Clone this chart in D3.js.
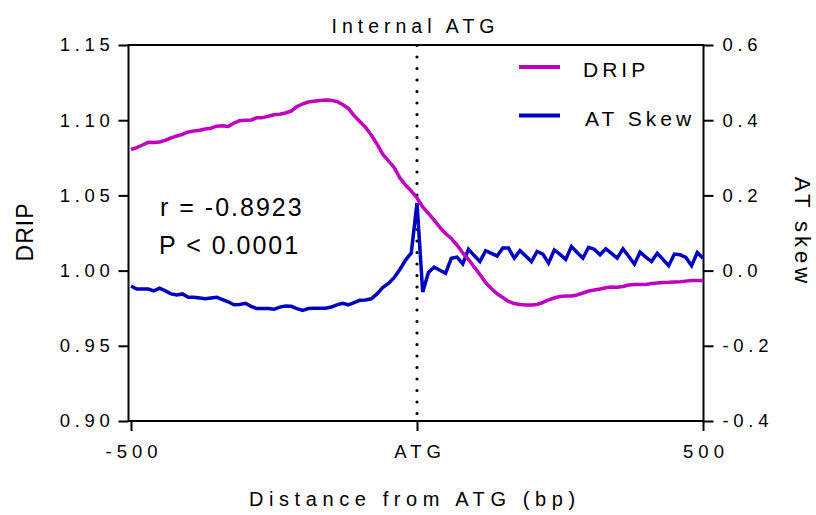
<!DOCTYPE html>
<html>
<head>
<meta charset="utf-8">
<script src="https://cdn.jsdelivr.net/npm/d3@7"></script>
<style>
  body { margin: 0; background: #fff; }
  svg text { font-family: "Liberation Sans", Arial, sans-serif; fill: #000; }
</style>
</head>
<body>
<script>
// Distance from the internal ATG (bp), one bin every 10 bp
var distance = [
  -500, -490, -480, -470, -460, -450, -440, -430, -420, -410,
  -400, -390, -380, -370, -360, -350, -340, -330, -320, -310,
  -300, -290, -280, -270, -260, -250, -240, -230, -220, -210,
  -200, -190, -180, -170, -160, -150, -140, -130, -120, -110,
  -100, -90, -80, -70, -60, -50, -40, -30, -20, -10,
  0, 10, 20, 30, 40, 50, 60, 70, 80, 90,
  100, 110, 120, 130, 140, 150, 160, 170, 180, 190,
  200, 210, 220, 230, 240, 250, 260, 270, 280, 290,
  300, 310, 320, 330, 340, 350, 360, 370, 380, 390,
  400, 410, 420, 430, 440, 450, 460, 470, 480, 490, 500
];

// DRIP signal (left axis)
var dripValues = [
  1.0805, 1.0818, 1.0835, 1.0853, 1.0851, 1.0855, 1.0866, 1.0883, 1.0895, 1.0906,
  1.0922, 1.0928, 1.0933, 1.0941, 1.0947, 1.0960, 1.0963, 1.0958, 1.0981, 1.0997,
  1.1000, 1.1001, 1.1017, 1.1017, 1.1026, 1.1036, 1.1040, 1.1048, 1.1061, 1.1090,
  1.1108, 1.1121, 1.1126, 1.1131, 1.1134, 1.1132, 1.1124, 1.1104, 1.1078, 1.1031,
  1.0991, 1.0953, 1.0902, 1.0842, 1.0775, 1.0729, 1.0686, 1.0617, 1.0569, 1.0529,
  1.0483, 1.0423, 1.0380, 1.0336, 1.0287, 1.0247, 1.0213, 1.0170, 1.0117, 1.0074,
  1.0024, 0.9974, 0.9921, 0.9881, 0.9846, 0.9821, 0.9795, 0.9781, 0.9775, 0.9771,
  0.9771, 0.9775, 0.9788, 0.9805, 0.9818, 0.9828, 0.9831, 0.9831, 0.9838, 0.9851,
  0.9864, 0.9871, 0.9878, 0.9886, 0.9891, 0.9889, 0.9894, 0.9904, 0.9908, 0.9908,
  0.9908, 0.9914, 0.9918, 0.9921, 0.9922, 0.9924, 0.9926, 0.9930, 0.9934, 0.9934, 0.9934
];

// AT skew (right axis)
var skewValues = [
  -0.041, -0.049, -0.049, -0.049, -0.054, -0.047, -0.054, -0.062, -0.065, -0.062,
  -0.071, -0.071, -0.073, -0.075, -0.073, -0.071, -0.077, -0.083, -0.091, -0.090,
  -0.087, -0.095, -0.101, -0.101, -0.101, -0.103, -0.097, -0.094, -0.095, -0.101,
  -0.106, -0.101, -0.100, -0.100, -0.100, -0.097, -0.091, -0.087, -0.091, -0.085,
  -0.079, -0.078, -0.075, -0.062, -0.045, -0.034, -0.019, 0.003, 0.028, 0.047,
  0.180, -0.057, -0.005, 0.009, 0.001, -0.007, 0.033, 0.036, 0.018, 0.057,
  0.040, 0.024, 0.053, 0.046, 0.039, 0.060, 0.060, 0.033, 0.053, 0.039,
  0.024, 0.051, 0.044, 0.020, 0.055, 0.043, 0.030, 0.064, 0.048, 0.033,
  0.062, 0.057, 0.042, 0.058, 0.046, 0.033, 0.058, 0.038, 0.017, 0.049,
  0.036, 0.024, 0.046, 0.030, 0.013, 0.044, 0.042, 0.035, 0.013, 0.048, 0.033
];

// Tick values and labels
var dripTicks = [0.90, 0.95, 1.00, 1.05, 1.10, 1.15];
var skewTicks = [-0.4, -0.2, 0.0, 0.2, 0.4, 0.6];
var distanceTicks = [-500, 0, 500];
var distanceTickLabels = ['-500', 'ATG', '500'];

var seriesNames = ['DRIP', 'AT Skew'];
var seriesColors = ['#c000c0', '#0000c0'];

var width = 816,
    height = 515;

// plot box edges (window.top is taken, so prefix them)
var boxLeft = 128.5, boxRight = 703.5, boxTop = 45, boxBottom = 421;

var x = d3.scaleLinear().domain([-500, 500]).range([131, 703]);
var yDrip = d3.scaleLinear().domain([0.90, 1.15]).range([boxBottom, boxTop]);
var ySkew = d3.scaleLinear().domain([-0.4, 0.6]).range([boxBottom, boxTop]);

// plain hyphen for negatives, like the original
var fmt = d3.formatLocale({ decimal: '.', thousands: ',', grouping: [3], currency: ['', ''], minus: '-' });

var svg = d3.select('body')
  .append('svg')
  .attr('width', width)
  .attr('height', height);

// the box around the plot
svg.append('rect')
  .attr('x', boxLeft)
  .attr('y', boxTop)
  .attr('width', boxRight - boxLeft)
  .attr('height', boxBottom - boxTop)
  .attr('fill', 'none')
  .attr('stroke', '#000')
  .attr('stroke-width', 2);

// spaced-out tick text, like the original export
function styleTicks(g, size, spacing) {
  g.select('.domain').remove();
  g.selectAll('.tick line').attr('stroke', '#000').attr('stroke-width', 2);
  g.selectAll('.tick text')
    .attr('fill', '#000')
    .style('font-family', '"Liberation Sans", Arial, sans-serif')
    .style('font-size', size + 'px')
    .style('letter-spacing', spacing + 'px');
}

svg.append('g')
  .attr('transform', 'translate(' + boxLeft + ',0)')
  .call(d3.axisLeft(yDrip).tickValues(dripTicks).tickFormat(fmt.format('.2f'))
    .tickSize(10).tickPadding(4))
  .call(styleTicks, 18.5, 4.7);

svg.append('g')
  .attr('transform', 'translate(' + boxRight + ',0)')
  .call(d3.axisRight(ySkew).tickValues(skewTicks).tickFormat(fmt.format('.1f'))
    .tickSize(10).tickPadding(9))
  .call(styleTicks, 18.5, 4.7);

svg.append('g')
  .attr('transform', 'translate(0,' + boxBottom + ')')
  .call(d3.axisBottom(x).tickValues(distanceTicks)
    .tickFormat(function(d, i) { return distanceTickLabels[i]; })
    .tickSize(10).tickPadding(14))
  .call(styleTicks, 18.5, 5)
  .selectAll('.tick text').attr('dx', 2.5);

// dotted marker at the ATG
svg.append('line')
  .attr('x1', x(0)).attr('x2', x(0))
  .attr('y1', boxTop + 0.5).attr('y2', boxBottom)
  .attr('stroke', '#000')
  .attr('stroke-width', 3.2)
  .attr('stroke-linecap', 'round')
  .attr('stroke-dasharray', '0,11.5');

// build rows for the two lines
var rows = distance.map(function(d, i) {
  return { bp: d, drip: dripValues[i], skew: skewValues[i] };
});

var dripLine = d3.line()
  .x(function(d) { return x(d.bp); })
  .y(function(d) { return yDrip(d.drip); });

var skewLine = d3.line()
  .x(function(d) { return x(d.bp); })
  .y(function(d) { return ySkew(d.skew); });

svg.append('path')
  .datum(rows)
  .attr('d', skewLine)
  .attr('fill', 'none')
  .attr('stroke', seriesColors[1])
  .attr('stroke-width', 3.5)
  .attr('stroke-linejoin', 'miter');

svg.append('path')
  .datum(rows)
  .attr('d', dripLine)
  .attr('fill', 'none')
  .attr('stroke', seriesColors[0])
  .attr('stroke-width', 3.5)
  .attr('stroke-linejoin', 'round');

// legend
var legend = svg.append('g');
seriesNames.forEach(function(name, i) {
  var ly = 67 + i * 48.5;
  legend.append('line')
    .attr('x1', 519).attr('x2', 560)
    .attr('y1', ly).attr('y2', ly)
    .attr('stroke', seriesColors[i])
    .attr('stroke-width', 4);
  legend.append('text')
    .attr('x', 583 + i * 2)
    .attr('y', ly + 10)
    .style('font-size', '21px')
    .style('letter-spacing', '4px')
    .text(name);
});

// correlation note
svg.append('text')
  .attr('x', 160).attr('y', 215.5)
  .style('font-size', '25px')
  .style('letter-spacing', '2px')
  .text('r = -0.8923');
svg.append('text')
  .attr('x', 159).attr('y', 254)
  .style('font-size', '25px')
  .style('letter-spacing', '2px')
  .text('P < 0.0001');

// titles
svg.append('text')
  .attr('x', 413 + 2.5).attr('y', 32.5)
  .attr('text-anchor', 'middle')
  .style('font-size', '19.5px')
  .style('letter-spacing', '5px')
  .text('Internal ATG');

svg.append('text')
  .attr('x', 412 + 2.8).attr('y', 506)
  .attr('text-anchor', 'middle')
  .style('font-size', '20px')
  .style('letter-spacing', '5.6px')
  .text('Distance from ATG (bp)');

svg.append('text')
  .attr('transform', 'translate(33,232) rotate(-90)')
  .attr('text-anchor', 'middle')
  .style('font-size', '23px')
  .style('letter-spacing', '1px')
  .text('DRIP');

svg.append('text')
  .attr('transform', 'translate(795,232) rotate(90)')
  .attr('text-anchor', 'middle')
  .style('font-size', '22px')
  .style('letter-spacing', '4px')
  .text('AT skew');
</script>
</body>
</html>
